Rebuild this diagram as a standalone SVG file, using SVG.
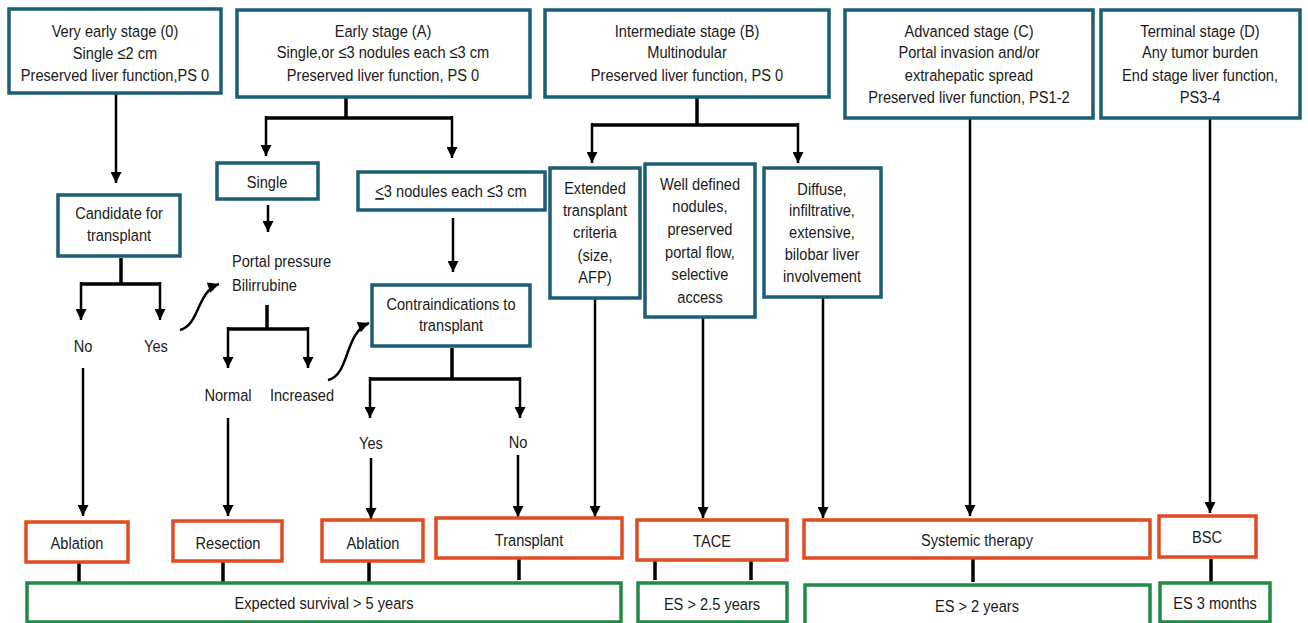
<svg xmlns="http://www.w3.org/2000/svg" width="1308" height="623" viewBox="0 0 1308 623">
<defs>
<style>
.t{font-family:"Liberation Sans",Arial,sans-serif;font-size:17px;fill:#1a1a1a;text-anchor:middle;transform-box:fill-box;transform-origin:50% 50%;transform:scaleX(0.86)}
.tl{text-anchor:start;transform-origin:0% 50%}
.st{fill:#fff;stroke:#1b5e76;stroke-width:3.5}
.tr{fill:#fff;stroke:#e04b22;stroke-width:3.5}
.sv{fill:#fff;stroke:#1f8a45;stroke-width:3.5}
.ar{fill:none;stroke:#000;stroke-width:2.5;marker-end:url(#ah)}
.br{fill:none;stroke:#000;stroke-width:3.5}
.ln{fill:none;stroke:#000;stroke-width:3.5}
</style>
<marker id="ah" viewBox="0 0 10 10" refX="10" refY="5" markerWidth="12" markerHeight="11" markerUnits="userSpaceOnUse" orient="auto">
<path d="M0,0 L10,5 L0,10 z" fill="#000"/>
</marker>
</defs>
<rect width="1308" height="623" fill="#fff"/>

<g id="connectors">
<path class="ar" d="M116,93 V183"/>
<path class="br" d="M121,258 V284 M81,284 H160"/>
<path class="ar" d="M81,282 V320"/>
<path class="ar" d="M160,282 V320"/>
<path class="ar" d="M180,330 C200,325 196,292 219,284"/>
<path class="ar" d="M83,368 V516"/>
<path class="br" d="M346,97 V118 M266,118 H452"/>
<path class="ar" d="M266,116 V156"/>
<path class="ar" d="M452,116 V158"/>
<path class="ar" d="M268,205 V232"/>
<path class="br" d="M267,305 V329 M228,329 H308"/>
<path class="ar" d="M228,327 V368"/>
<path class="ar" d="M308,327 V368"/>
<path class="ar" d="M328,380 C350,375 344,333 369,323"/>
<path class="ar" d="M228,418 V516"/>
<path class="ar" d="M453,218 V272"/>
<path class="br" d="M452,348 V379 M370,379 H520"/>
<path class="ar" d="M370,377 V418"/>
<path class="ar" d="M520,377 V418"/>
<path class="ar" d="M371,458 V519"/>
<path class="ar" d="M518,455 V517"/>
<path class="br" d="M697,97 V125 M592,125 H798"/>
<path class="ar" d="M592,123 V163"/>
<path class="ar" d="M798,123 V163"/>
<path class="ar" d="M595,298 V517"/>
<path class="ar" d="M703,317 V518"/>
<path class="ar" d="M823,297 V518"/>
<path class="ar" d="M970,118 V516"/>
<path class="ar" d="M1210,118 V513"/>
<path class="ln" d="M79,563 V583 M223,562 V583 M369,562 V583 M519,559 V580 M655,561 V580 M751,561 V580 M973,559 V582 M1211,559 V583"/>
</g>

<g id="stage0"><rect class="st" x="9" y="9" width="212" height="84"/>
<text class="t" x="115" y="37">Very early stage (0)</text>
<text class="t" x="115" y="59">Single ≤2 cm</text>
<text class="t" x="115" y="81">Preserved liver function,PS 0</text></g>

<g id="stageA"><rect class="st" x="237" y="10" width="293" height="87"/>
<text class="t" x="383" y="37">Early stage (A)</text>
<text class="t" x="383" y="58">Single,or ≤3 nodules each ≤3 cm</text>
<text class="t" x="383" y="81">Preserved liver function, PS 0</text></g>

<g id="stageB"><rect class="st" x="545" y="10" width="284" height="87"/>
<text class="t" x="687" y="37">Intermediate stage (B)</text>
<text class="t" x="687" y="58">Multinodular</text>
<text class="t" x="687" y="81">Preserved liver function, PS 0</text></g>

<g id="stageC"><rect class="st" x="845" y="10" width="248" height="108"/>
<text class="t" x="969" y="37">Advanced stage (C)</text>
<text class="t" x="969" y="58">Portal invasion and/or</text>
<text class="t" x="969" y="81">extrahepatic spread</text>
<text class="t" x="969" y="103">Preserved liver function, PS1-2</text></g>

<g id="stageD"><rect class="st" x="1101" y="10" width="199" height="108"/>
<text class="t" x="1200" y="37">Terminal stage (D)</text>
<text class="t" x="1200" y="58">Any tumor burden</text>
<text class="t" x="1200" y="81">End stage liver function,</text>
<text class="t" x="1200" y="103">PS3-4</text></g>

<g id="candidate"><rect class="st" x="58" y="195" width="122" height="61"/>
<text class="t" x="119" y="219">Candidate for</text>
<text class="t" x="119" y="241">transplant</text></g>

<g id="no1"><text class="t" x="83" y="352">No</text></g>
<g id="yes1"><text class="t" x="156" y="352">Yes</text></g>

<g id="single"><rect class="st" x="217" y="163" width="101" height="36"/>
<text class="t" x="267" y="188">Single</text></g>

<g id="portal"><text class="t tl" x="232" y="267">Portal pressure</text>
<text class="t tl" x="232" y="291">Bilirrubine</text></g>

<g id="normal"><text class="t" x="228" y="401">Normal</text></g>
<g id="increased"><text class="t" x="302" y="401">Increased</text></g>

<g id="nodules"><rect class="st" x="358" y="172" width="187" height="38"/>
<text class="t" x="451" y="197"><tspan text-decoration="underline">&lt;</tspan>3 nodules each ≤3 cm</text></g>

<g id="contra"><rect class="st" x="372" y="285" width="158" height="61"/>
<text class="t" x="451" y="310">Contraindications to</text>
<text class="t" x="451" y="331">transplant</text></g>

<g id="yes2"><text class="t" x="371" y="449">Yes</text></g>
<g id="no2"><text class="t" x="518" y="448">No</text></g>

<g id="extended"><rect class="st" x="550" y="168" width="90" height="130"/>
<text class="t" x="595" y="194">Extended</text>
<text class="t" x="595" y="216">transplant</text>
<text class="t" x="595" y="238">criteria</text>
<text class="t" x="595" y="261">(size,</text>
<text class="t" x="595" y="283">AFP)</text></g>

<g id="welldefined"><rect class="st" x="645" y="164" width="110" height="153"/>
<text class="t" x="700" y="190">Well defined</text>
<text class="t" x="700" y="212">nodules,</text>
<text class="t" x="700" y="235">preserved</text>
<text class="t" x="700" y="258">portal flow,</text>
<text class="t" x="700" y="280">selective</text>
<text class="t" x="700" y="303">access</text></g>

<g id="diffuse"><rect class="st" x="764" y="168" width="117" height="129"/>
<text class="t" x="822" y="195">Diffuse,</text>
<text class="t" x="822" y="216">infiltrative,</text>
<text class="t" x="822" y="238">extensive,</text>
<text class="t" x="822" y="260">bilobar liver</text>
<text class="t" x="822" y="282">involvement</text></g>

<g id="ablation1"><rect class="tr" x="26" y="522" width="102" height="40"/>
<text class="t" x="77" y="549">Ablation</text></g>
<g id="resection"><rect class="tr" x="173" y="521" width="109" height="40"/>
<text class="t" x="228" y="549">Resection</text></g>
<g id="ablation2"><rect class="tr" x="322" y="520" width="101" height="41"/>
<text class="t" x="373" y="549">Ablation</text></g>
<g id="transplant"><rect class="tr" x="436" y="518" width="186" height="40"/>
<text class="t" x="529" y="546">Transplant</text></g>
<g id="tace"><rect class="tr" x="637" y="520" width="150" height="40"/>
<text class="t" x="712" y="547">TACE</text></g>
<g id="systemic"><rect class="tr" x="804" y="520" width="346" height="38"/>
<text class="t" x="977" y="546">Systemic therapy</text></g>
<g id="bsc"><rect class="tr" x="1159" y="516" width="97" height="41"/>
<text class="t" x="1207" y="543">BSC</text></g>

<g id="es5"><rect class="sv" x="27" y="583" width="594" height="39"/>
<text class="t" x="324" y="609">Expected survival &gt; 5 years</text></g>
<g id="es25"><rect class="sv" x="638" y="583" width="149" height="39"/>
<text class="t" x="712" y="610">ES &gt; 2.5 years</text></g>
<g id="es2"><rect class="sv" x="805" y="585" width="345" height="40"/>
<text class="t" x="977" y="612">ES &gt; 2 years</text></g>
<g id="es3m"><rect class="sv" x="1160" y="583" width="110" height="39"/>
<text class="t" x="1215" y="609">ES 3 months</text></g>
</svg>
